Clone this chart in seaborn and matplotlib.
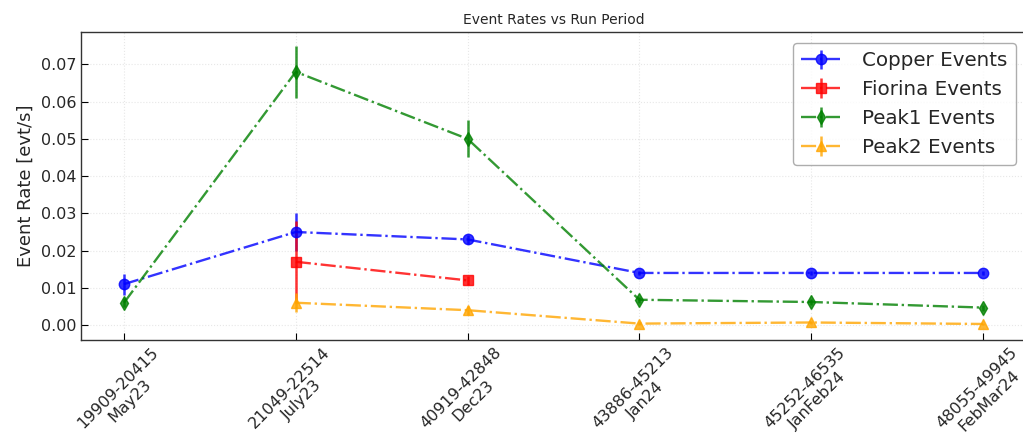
import numpy as np
import pandas as pd
import seaborn as sns
import matplotlib
matplotlib.use("Agg")
import matplotlib.pyplot as plt

# ------------------------------------------
# DATA
# ------------------------------------------

periods = [
    "19909-20415\nMay23",
    "21049-22514\nJuly23",
    "40919-42848\nDec23",
    "43886-45213\nJan24",
    "45252-46535\nJanFeb24",
    "48055-49945\nFebMar24",
]

copper_rate = [0.011, 0.025, 0.023, 0.014, 0.014, 0.014]
copper_err = [0.0028, 0.0052, 0.0012, 0.0005, 0.0005, 0.0005]

fiorina_rate = [np.nan, 0.017, 0.012, np.nan, np.nan, np.nan]
fiorina_err = [np.nan, 0.0110, 0.0012, np.nan, np.nan, np.nan]

peak1_rate = [0.006, 0.068, 0.050, 0.0068, 0.0062, 0.0047]
peak1_err = [0.0012, 0.0070, 0.0050, 0.0008, 0.0008, 0.0008]

peak2_rate = [np.nan, 0.006, 0.004, 0.0004, 0.0007, 0.0003]
peak2_err = [np.nan, 0.0025, 0.0012, 0.0003, 0.0003, 0.0003]

series = [
    ("Copper Events", copper_rate, copper_err, "blue", "o"),
    ("Fiorina Events", fiorina_rate, fiorina_err, "red", "s"),
    ("Peak1 Events", peak1_rate, peak1_err, "green", "d"),
    ("Peak2 Events", peak2_rate, peak2_err, "orange", "^"),
]

# ------------------------------------------
# PLOT
# ------------------------------------------

sns.set_style("whitegrid")
plt.rcParams['font.family'] = ['DejaVu Sans']

fig = plt.figure(figsize=(10.23, 4.37), dpi=100)
ax = fig.add_axes([0.0792, 0.222, 0.9237, 0.7048])

x = np.arange(len(periods))
for label, rate, err, color, marker in series:
    df = pd.DataFrame({"x": x, "rate": rate, "err": err}).dropna()
    ax.errorbar(
        df["x"], df["rate"], yerr=df["err"],
        fmt=marker, linestyle="-.", color=color, label=label,
        markersize=7.5, linewidth=1.7, elinewidth=1.8, alpha=0.8,
    )

ax.set_xticks(x)
ax.set_xticklabels(periods, rotation=45, fontsize=11.5)
ax.tick_params(axis="y", labelsize=11.5)
ax.tick_params(direction="in", length=5, width=0.8, color="black",
               bottom=True, left=True)
ax.set_xlim(-0.25, 5.25)
ax.set_ylim(-0.004, 0.0787)
ax.set_yticks(np.arange(0, 0.071, 0.01))

ax.grid(True, color="#dddddd", linestyle=":", linewidth=0.8, alpha=0.7)
for spine in ax.spines.values():
    spine.set_color("#333333")
    spine.set_linewidth(1.0)

ax.set_ylabel("Event Rate [evt/s]", fontsize=13)
ax.set_title("Event Rates vs Run Period", fontsize=10)

leg = ax.legend(loc="upper right", bbox_to_anchor=(0.9995, 0.995),
                fontsize=14.3, frameon=True, borderpad=0.4,
                handlelength=2.0, handletextpad=1.1, labelspacing=0.5)
leg.get_frame().set_edgecolor("#999999")

fig.savefig("out.png", dpi=100)
